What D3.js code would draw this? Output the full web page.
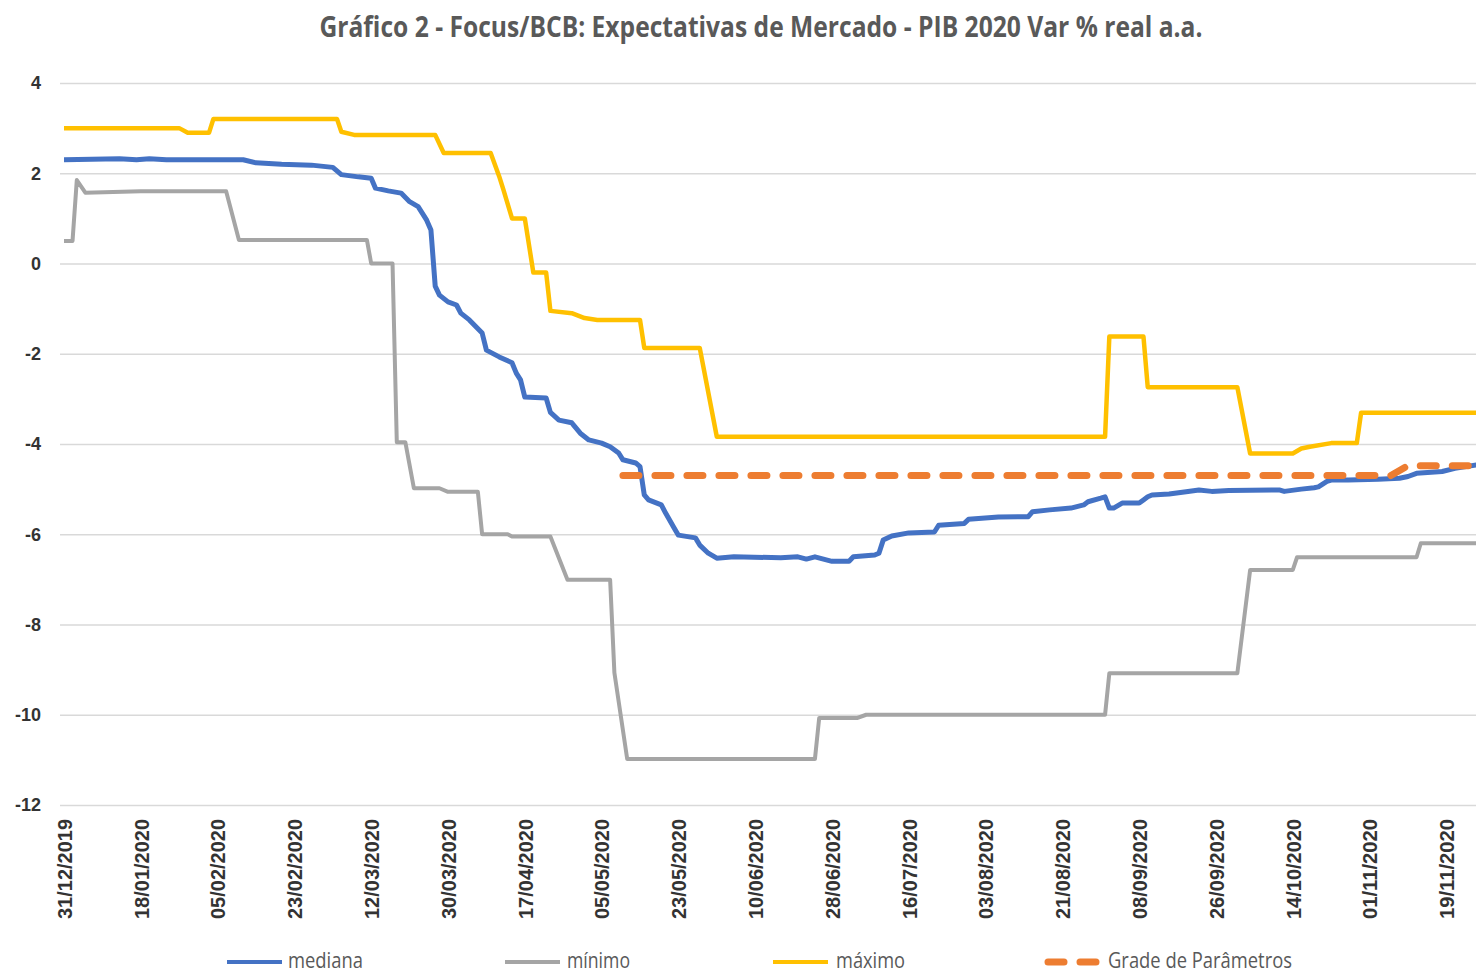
<!DOCTYPE html>
<html>
<head>
<meta charset="utf-8">
<title>Focus/BCB - PIB 2020</title>
<script src="https://d3js.org/d3.v7.min.js"></script>
<style>
  body { margin: 0; background: #fff; }
</style>
</head>
<body>
<svg id="chart" width="1476" height="975"></svg>

<script>
// ---- data ----
var title = "Gráfico 2 - Focus/BCB: Expectativas de Mercado - PIB 2020 Var % real a.a.";
var seriesNames = ["mediana", "mínimo", "máximo", "Grade de Parâmetros"];
var yTicks = [-12, -10, -8, -6, -4, -2, 0, 2, 4];
var xTickLabels = ["2019-12-31", "2020-01-18", "2020-02-05", "2020-02-23", "2020-03-12",
  "2020-03-30", "2020-04-17", "2020-05-05", "2020-05-23", "2020-06-10", "2020-06-28",
  "2020-07-16", "2020-08-03", "2020-08-21", "2020-09-08", "2020-09-26", "2020-10-14",
  "2020-11-01", "2020-11-19"];

var mediana = [
  ["2019-12-31", 2.30], ["2020-01-13", 2.32], ["2020-01-17", 2.30], ["2020-01-20", 2.32],
  ["2020-01-24", 2.30], ["2020-02-11", 2.30], ["2020-02-14", 2.23], ["2020-02-20", 2.20],
  ["2020-02-27", 2.18], ["2020-03-03", 2.13], ["2020-03-05", 1.97], ["2020-03-09", 1.92],
  ["2020-03-12", 1.89], ["2020-03-13", 1.67], ["2020-03-16", 1.61], ["2020-03-19", 1.56],
  ["2020-03-21", 1.37], ["2020-03-23", 1.26], ["2020-03-25", 0.96], ["2020-03-26", 0.74],
  ["2020-03-27", -0.50], ["2020-03-28", -0.70], ["2020-03-30", -0.85], ["2020-04-01", -0.92],
  ["2020-04-02", -1.10], ["2020-04-04", -1.25], ["2020-04-07", -1.54], ["2020-04-08", -1.92],
  ["2020-04-11", -2.07], ["2020-04-14", -2.20], ["2020-04-15", -2.43], ["2020-04-16", -2.58],
  ["2020-04-17", -2.96], ["2020-04-22", -2.98], ["2020-04-23", -3.30], ["2020-04-25", -3.47],
  ["2020-04-28", -3.53], ["2020-04-30", -3.76], ["2020-05-02", -3.91], ["2020-05-05", -3.98],
  ["2020-05-07", -4.06], ["2020-05-09", -4.20], ["2020-05-10", -4.35], ["2020-05-13", -4.42],
  ["2020-05-14", -4.50], ["2020-05-15", -5.13], ["2020-05-16", -5.24], ["2020-05-19", -5.35],
  ["2020-05-20", -5.53], ["2020-05-22", -5.86], ["2020-05-23", -6.02], ["2020-05-27", -6.08],
  ["2020-05-28", -6.24], ["2020-05-30", -6.42], ["2020-06-01", -6.53], ["2020-06-05", -6.50],
  ["2020-06-16", -6.52], ["2020-06-20", -6.50], ["2020-06-22", -6.55], ["2020-06-24", -6.50],
  ["2020-06-28", -6.60], ["2020-07-02", -6.60], ["2020-07-03", -6.50], ["2020-07-08", -6.46],
  ["2020-07-09", -6.42], ["2020-07-10", -6.13], ["2020-07-12", -6.04], ["2020-07-16", -5.97],
  ["2020-07-22", -5.95], ["2020-07-23", -5.80], ["2020-07-29", -5.76], ["2020-07-30", -5.67],
  ["2020-08-06", -5.62], ["2020-08-13", -5.61], ["2020-08-14", -5.50], ["2020-08-18", -5.46],
  ["2020-08-23", -5.42], ["2020-08-26", -5.35], ["2020-08-27", -5.28], ["2020-08-30", -5.20],
  ["2020-08-31", -5.17], ["2020-09-01", -5.42], ["2020-09-02", -5.42], ["2020-09-04", -5.31],
  ["2020-09-08", -5.31], ["2020-09-09", -5.24], ["2020-09-10", -5.17], ["2020-09-11", -5.13],
  ["2020-09-15", -5.11], ["2020-09-19", -5.06], ["2020-09-22", -5.02], ["2020-09-25", -5.05],
  ["2020-09-29", -5.03], ["2020-10-11", -5.02], ["2020-10-12", -5.05], ["2020-10-16", -5.00],
  ["2020-10-19", -4.97], ["2020-10-20", -4.95], ["2020-10-22", -4.83], ["2020-10-23", -4.80],
  ["2020-10-27", -4.80], ["2020-11-03", -4.78], ["2020-11-08", -4.76], ["2020-11-10", -4.72],
  ["2020-11-12", -4.65], ["2020-11-18", -4.61], ["2020-11-21", -4.54], ["2020-11-27", -4.45]
];

var minimo = [
  ["2019-12-31", 0.50], ["2020-01-02", 0.50], ["2020-01-03", 1.85], ["2020-01-05", 1.57],
  ["2020-01-18", 1.60], ["2020-02-07", 1.60], ["2020-02-10", 0.52], ["2020-03-11", 0.52],
  ["2020-03-12", 0.00], ["2020-03-17", 0.00], ["2020-03-18", -3.96], ["2020-03-20", -3.96],
  ["2020-03-22", -4.98], ["2020-03-28", -4.98], ["2020-03-30", -5.06], ["2020-04-06", -5.06],
  ["2020-04-07", -6.00], ["2020-04-13", -6.00], ["2020-04-14", -6.05], ["2020-04-23", -6.05],
  ["2020-04-27", -7.01], ["2020-05-07", -7.01], ["2020-05-08", -9.07], ["2020-05-11", -10.98],
  ["2020-06-24", -10.98], ["2020-06-25", -10.07], ["2020-07-04", -10.07], ["2020-07-06", -10.00],
  ["2020-08-31", -10.00], ["2020-09-01", -9.08], ["2020-10-01", -9.08], ["2020-10-04", -6.79],
  ["2020-10-14", -6.79], ["2020-10-15", -6.51], ["2020-11-12", -6.51], ["2020-11-13", -6.20],
  ["2020-11-27", -6.20]
];

var maximo = [
  ["2019-12-31", 3.00], ["2020-01-27", 3.00], ["2020-01-29", 2.90], ["2020-02-03", 2.90],
  ["2020-02-04", 3.20], ["2020-03-04", 3.20], ["2020-03-05", 2.92], ["2020-03-08", 2.85],
  ["2020-03-27", 2.85], ["2020-03-29", 2.45], ["2020-04-09", 2.45], ["2020-04-11", 1.93],
  ["2020-04-12", 1.63], ["2020-04-14", 1.00], ["2020-04-17", 1.00], ["2020-04-19", -0.20],
  ["2020-04-22", -0.20], ["2020-04-23", -1.05], ["2020-04-28", -1.10], ["2020-05-01", -1.21],
  ["2020-05-04", -1.25], ["2020-05-14", -1.25], ["2020-05-15", -1.87], ["2020-05-28", -1.87],
  ["2020-06-01", -3.84], ["2020-08-31", -3.84], ["2020-09-01", -1.62], ["2020-09-09", -1.62],
  ["2020-09-10", -2.74], ["2020-10-01", -2.74], ["2020-10-04", -4.21], ["2020-10-14", -4.21],
  ["2020-10-16", -4.10], ["2020-10-18", -4.06], ["2020-10-23", -3.98], ["2020-10-29", -3.98],
  ["2020-10-30", -3.31], ["2020-11-27", -3.31]
];

var grade = [
  ["2020-05-10", -4.70], ["2020-11-06", -4.70], ["2020-11-10", -4.48], ["2020-11-27", -4.48]
];

// ---- layout ----
var W = 1476, H = 975;
var plotLeft = 60, plotTop = 83, plotBottom = 805;
var colors = ["#4472C4", "#A5A5A5", "#FFC000", "#ED7D31"];
var widths = [5, 4, 4.5, 7];
var labelFont = "'Liberation Sans', Arial, sans-serif";
var textFont = "'Open Sans', 'Noto Sans', sans-serif";

var parse = d3.utcParse("%Y-%m-%d");
var fmt = d3.utcFormat("%d/%m/%Y");
var svg = d3.select("#chart");

// 18 days between labels -> 76.8px
var x = d3.scaleUtc()
  .domain([parse("2019-12-31"), parse("2020-11-19")])
  .range([64, 1446.4]);
var y = d3.scaleLinear()
  .domain([-12, 4])
  .range([plotBottom, plotTop]);

// Title
svg.append("text")
  .attr("x", 761)
  .attr("y", 37)
  .attr("text-anchor", "middle")
  .attr("textLength", 883)
  .attr("lengthAdjust", "spacingAndGlyphs")
  .style("font-family", textFont)
  .style("font-weight", 700)
  .style("font-size", "28px")
  .style("fill", "#595959")
  .text(title);

// Gridlines
var grid = svg.append("g")
  .attr("transform", "translate(" + plotLeft + ",0)")
  .call(d3.axisLeft(y).tickValues(yTicks).tickSize(-(W - plotLeft)).tickFormat(""));
grid.select(".domain").remove();
grid.selectAll("line")
  .attr("stroke", "#d9d9d9")
  .attr("stroke-width", 1.5);

// Y labels (plain hyphen for negatives, like the original)
var yAxis = svg.append("g")
  .attr("transform", "translate(" + plotLeft + ",0)")
  .call(d3.axisLeft(y).tickValues(yTicks).tickSize(0).tickPadding(19)
    .tickFormat(function(d) { return String(d); }));
yAxis.select(".domain").remove();
yAxis.selectAll("text")
  .style("font-family", labelFont)
  .style("font-weight", 700)
  .style("font-size", "18px")
  .style("fill", "#333");

// X labels (rotated)
var xAxis = svg.append("g")
  .attr("transform", "translate(0," + plotBottom + ")")
  .call(d3.axisBottom(x).tickValues(xTickLabels.map(parse)).tickSize(0).tickFormat(fmt));
xAxis.select(".domain").remove();
xAxis.selectAll("text")
  .attr("transform", "rotate(-90)")
  .attr("x", -14)
  .attr("y", 0)
  .attr("dy", "0.36em")
  .attr("textLength", 100)
  .attr("lengthAdjust", "spacingAndGlyphs")
  .style("text-anchor", "end")
  .style("font-family", labelFont)
  .style("font-weight", 700)
  .style("font-size", "20px")
  .style("fill", "#333");

// Lines
var line = d3.line()
  .x(function(d) { return x(parse(d[0])); })
  .y(function(d) { return y(d[1]); });

var allSeries = [mediana, minimo, maximo, grade];
allSeries.forEach(function(s, i) {
  var p = svg.append("path")
    .datum(s)
    .attr("d", line)
    .attr("fill", "none")
    .attr("stroke", colors[i])
    .attr("stroke-width", widths[i])
    .attr("stroke-linejoin", "round");
  if (i == 3) {
    p.attr("stroke-dasharray", "16,16").attr("stroke-linecap", "round");
  }
});

// Legend
var legendLineX = [227, 505, 773, 1048];
var legendTextX = [288, 567, 836, 1108];
var legendTextLen = [75, 63, 69, 184];
var legendY = 962;

seriesNames.forEach(function(name, i) {
  var l = svg.append("line")
    .attr("x1", legendLineX[i])
    .attr("x2", legendLineX[i] + (i == 3 ? 50 : 55))
    .attr("y1", legendY)
    .attr("y2", legendY)
    .attr("stroke", colors[i])
    .attr("stroke-width", i == 3 ? 7 : 4);
  if (i == 3) {
    l.attr("stroke-dasharray", "16,16").attr("stroke-linecap", "round");
  }
  svg.append("text")
    .attr("x", legendTextX[i])
    .attr("y", 968)
    .attr("textLength", legendTextLen[i])
    .attr("lengthAdjust", "spacingAndGlyphs")
    .style("font-family", textFont)
    .style("font-size", "21px")
    .style("fill", "#595959")
    .text(name);
});
</script>
</body>
</html>
